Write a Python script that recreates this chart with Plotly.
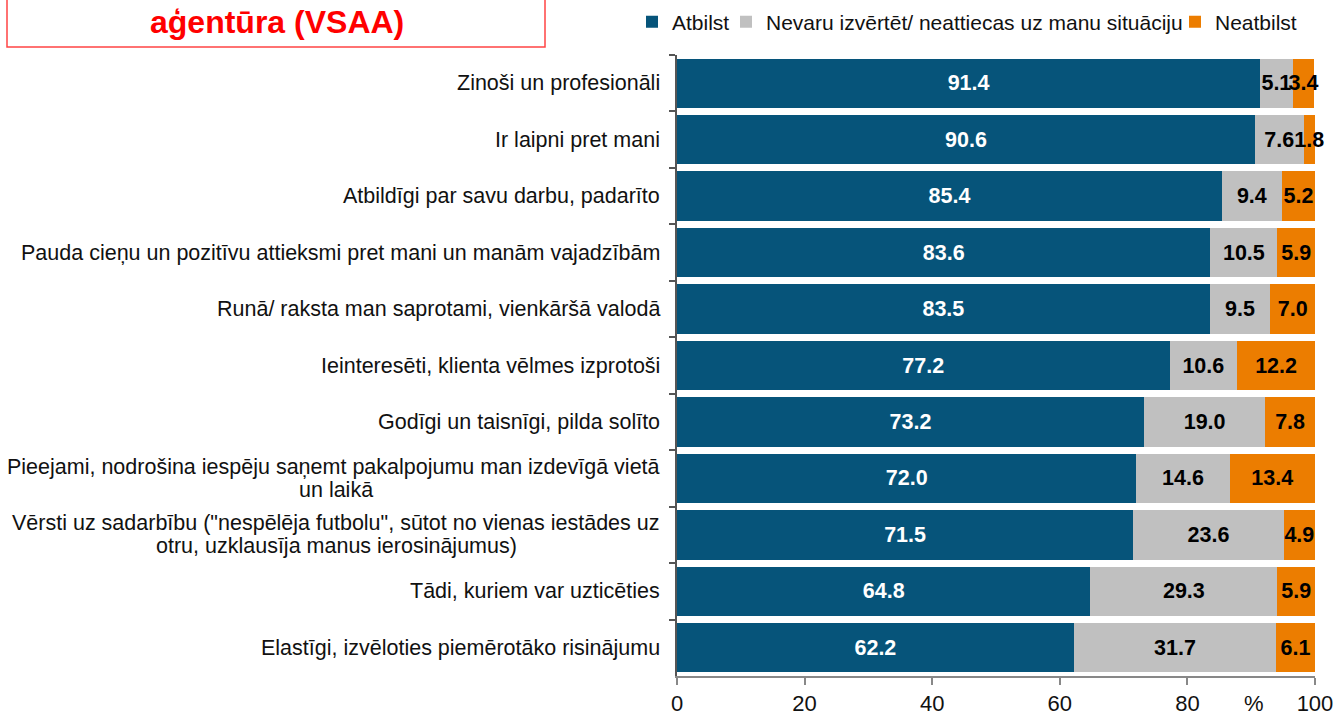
import plotly.graph_objects as go

categories = [
    "Zinoši un profesionāli",
    "Ir laipni pret mani",
    "Atbildīgi par savu darbu, padarīto",
    "Pauda cieņu un pozitīvu attieksmi pret mani un manām vajadzībām",
    "Runā/ raksta man saprotami, vienkāršā valodā",
    "Ieinteresēti, klienta vēlmes izprotoši",
    "Godīgi un taisnīgi, pilda solīto",
    "Pieejami, nodrošina iespēju saņemt pakalpojumu man izdevīgā vietā<br>un laikā",
    "Vērsti uz sadarbību (\"nespēlēja futbolu\", sūtot no vienas iestādes uz<br>otru, uzklausīja manus ierosinājumus)",
    "Tādi, kuriem var uzticēties",
    "Elastīgi, izvēloties piemērotāko risinājumu",
]
atbilst = [91.4, 90.6, 85.4, 83.6, 83.5, 77.2, 73.2, 72.0, 71.5, 64.8, 62.2]
nevaru = [5.1, 7.6, 9.4, 10.5, 9.5, 10.6, 19.0, 14.6, 23.6, 29.3, 31.7]
neatbilst = [3.4, 1.8, 5.2, 5.9, 7.0, 12.2, 7.8, 13.4, 4.9, 5.9, 6.1]
series_names = ["Atbilst", "Nevaru izvērtēt/ neattiecas uz manu situāciju", "Neatbilst"]
x_ticks = [0, 20, 40, 60, 80, 100]

FONT = "Liberation Sans, Arial, sans-serif"
FS = 21.5
LFS = 21
PX = 638.0  # plot width in px
colors = ["#06547A", "#C0C0C0", "#EC7D00"]
text_colors = ["white", "black", "black"]
legend_ids = ["legend", "legend2", "legend3"]
legend_text_px = [673, 767, 1216]

fig = go.Figure()
for name, vals, col, tcol, lid in zip(series_names, [atbilst, nevaru, neatbilst], colors, text_colors, legend_ids):
    fig.add_trace(go.Bar(
        y=categories, x=vals, name=name, orientation="h",
        marker=dict(color=col, line=dict(width=0)),
        text=[f"{v:.1f}" for v in vals],
        texttemplate="<b>%{text}</b>",
        textposition="inside", insidetextanchor="middle",
        constraintext="none", textangle=0, cliponaxis=False,
        textfont=dict(family=FONT, size=FS, color=tcol),
        hoverinfo="x+y+name", legend=lid,
    ))

annotations = []
for c in categories:
    lines = c.split("<br>")
    if len(lines) == 1:
        annotations.append(dict(
            x=-15 / PX, xref="paper", y=c, yref="y", text=c, showarrow=False,
            xanchor="right", yanchor="middle",
            font=dict(family=FONT, size=FS, color="#111111"),
        ))
    else:
        annotations.append(dict(
            x=-15 / PX, xref="paper", y=c, yref="y", text=lines[0], showarrow=False,
            xanchor="right", yanchor="middle", yshift=11.5,
            font=dict(family=FONT, size=FS, color="#111111"),
        ))
        annotations.append(dict(
            x=(336 - 677) / PX, xref="paper", y=c, yref="y", text=lines[1], showarrow=False,
            xanchor="center", yanchor="middle", yshift=-11.5,
            font=dict(family=FONT, size=FS, color="#111111"),
        ))
annotations.append(dict(
    x=90.4, xref="x", y=-0.0435, yref="paper", text="%", showarrow=False,
    xanchor="center", yanchor="middle", font=dict(family=FONT, size=22, color="#111111"),
))
annotations.append(dict(
    x=(277 - 677) / PX, xref="paper", y=1.053, yref="paper", text="<b>aģentūra (VSAA)</b>",
    showarrow=False, xanchor="center", yanchor="middle",
    font=dict(family=FONT, size=32, color="#FF0000"),
))

legend_layout = {}
for lid, tx in zip(legend_ids, legend_text_px):
    legend_layout[lid] = dict(
        orientation="h", x=(tx - 41 - 677) / PX, xanchor="left", y=1.053, yanchor="middle",
        font=dict(family=FONT, size=LFS, color="#111111"),
        itemwidth=30, bgcolor="rgba(0,0,0,0)",
    )

fig.update_layout(
    width=1336, height=715,
    margin=dict(l=677, r=21, t=55, b=39, autoexpand=False),
    barmode="stack", bargap=0.125,
    plot_bgcolor="white", paper_bgcolor="white",
    font=dict(family=FONT, size=FS, color="#111111"),
    showlegend=True,
    annotations=annotations,
    shapes=[dict(type="rect", xref="paper", yref="paper",
                 x0=(7 - 677) / PX, x1=(545 - 677) / PX, y0=1 + 8 / 621, y1=1.12,
                 line=dict(color="#FF4444", width=1.5), fillcolor="rgba(0,0,0,0)")],
    xaxis=dict(
        range=[0, 100.001], tickvals=x_ticks, ticktext=[str(t) for t in x_ticks],
        showgrid=False, zeroline=False, showline=True, linecolor="#888888", linewidth=2,
        ticks="outside", ticklen=7, tickcolor="#888888", tickwidth=1.5,
        tickfont=dict(family=FONT, size=22, color="#111111"),
    ),
    yaxis=dict(
        categoryorder="array", categoryarray=categories, autorange="reversed",
        showticklabels=False, showgrid=False, zeroline=False,
        showline=True, linecolor="#555555", linewidth=1.5,
        ticks="outside", tickson="boundaries", ticklen=6, tickcolor="#555555", tickwidth=1.5,
    ),
    **legend_layout,
)

fig.write_html(
    "out.html",
    config={"displayModeBar": False},
    post_script="document.body.style.margin='0';document.documentElement.style.overflow='hidden';document.body.style.overflow='hidden';",
)
